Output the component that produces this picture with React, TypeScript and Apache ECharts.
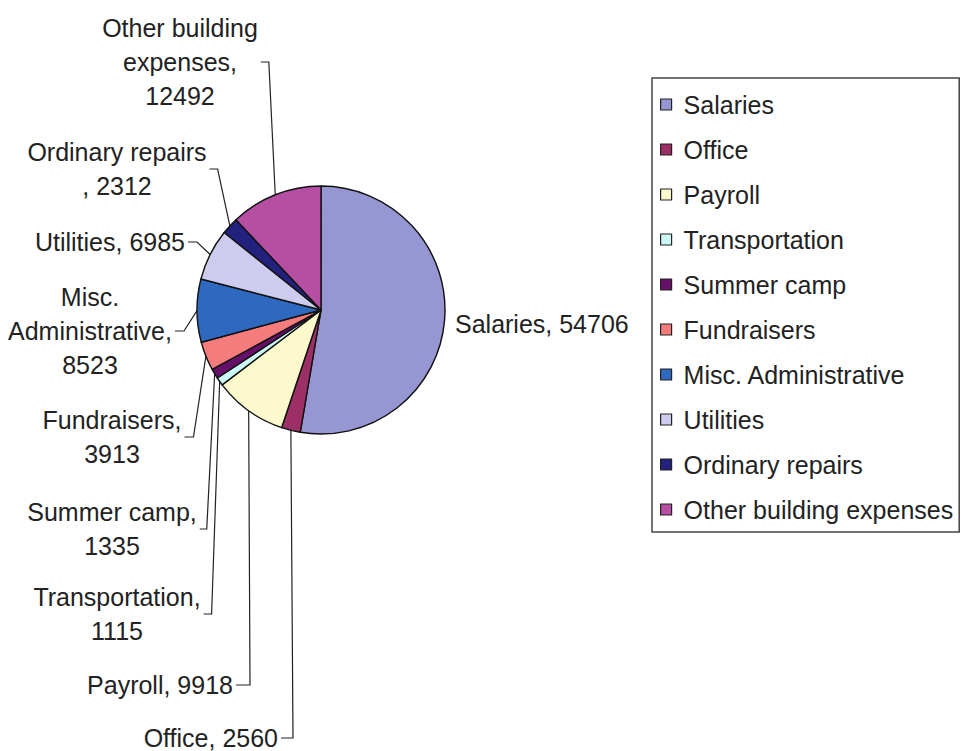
import React, { useEffect, useRef } from 'react';
import * as echarts from 'echarts';

// ---- data ----
const categories = [
  'Salaries',
  'Office',
  'Payroll',
  'Transportation',
  'Summer camp',
  'Fundraisers',
  'Misc. Administrative',
  'Utilities',
  'Ordinary repairs',
  'Other building expenses',
];
const values = [54706, 2560, 9918, 1115, 1335, 3913, 8523, 6985, 2312, 12492];
const colors = [
  '#9696D2',
  '#9B2F66',
  '#FCFACC',
  '#CCF7F7',
  '#66106A',
  '#F47C7C',
  '#2F69BF',
  '#CDCCEE',
  '#22227E',
  '#B64EA4',
];

// ---- label layout (positions only) ----
// wrap modes: 0 one line, 1 value on own line, 2 last word + value on own lines, 3 ", value" on own line
const labelWrap = [0, 0, 0, 1, 1, 1, 2, 0, 3, 2];
const labelX = [455, 278, 233, 117, 112, 112, 90, 185, 117, 180];
const labelY = [324, 738, 685, 614, 529, 437, 331, 242, 169, 62];
const labelAlign = ['left', 'right', 'right', 'center', 'center', 'center', 'center', 'right', 'center', 'center'];
const tickLen = [0, 12, 14, 8, 7, 9, 9, 9, 8, 8];

const FONT = '"Liberation Sans", Arial, sans-serif';

export default function App() {
  const ref = useRef<HTMLDivElement>(null);
  useEffect(() => {
    if (!ref.current) return;
    const chart = echarts.init(ref.current, undefined, { renderer: 'svg' });
    const data = categories.map((name, i) => ({
      name,
      value: values[i],
      itemStyle: { color: colors[i] },
      labelLine: { show: tickLen[i] > 0 },
    }));
    chart.setOption({
      animation: false,
      backgroundColor: '#ffffff',
      legend: {
        orient: 'vertical',
        left: 652,
        top: 78,
        padding: [14, 6, 10, 8],
        itemGap: 20,
        itemWidth: 11,
        itemHeight: 11,
        icon: 'rect',
        borderColor: '#444',
        borderWidth: 1.5,
        itemStyle: { borderColor: '#222', borderWidth: 1.2 },
        textStyle: {
          fontFamily: FONT,
          fontSize: 25,
          lineHeight: 25,
          color: '#222',
          padding: [0, 0, 0, 7],
        },
        data: categories,
      },
      series: [
        {
          type: 'pie',
          center: [321, 310],
          radius: 124,
          startAngle: 90,
          clockwise: true,
          avoidLabelOverlap: false,
          itemStyle: { borderColor: '#111', borderWidth: 1.4 },
          emphasis: { disabled: true },
          label: {
            show: true,
            position: 'outer',
            alignTo: 'none',
            fontFamily: FONT,
            fontSize: 25,
            lineHeight: 34,
            color: '#222',
            overflow: 'none',
            formatter: (p: any) => {
              const n = p.name as string;
              const v = p.value;
              const m = labelWrap[p.dataIndex];
              if (m === 1) return `${n},\n${v}`;
              if (m === 2) return n.replace(/ (\S+)$/, '\n$1') + `,\n${v}`;
              if (m === 3) return `${n}\n, ${v}`;
              return `${n}, ${v}`;
            },
          },
          labelLine: {
            show: true,
            length: 10,
            length2: 10,
            lineStyle: { color: '#222', width: 1.2 },
          },
          labelLayout: (params: any) => {
            const i = params.dataIndex;
            const x = labelX[i];
            const y = labelY[i];
            const align = labelAlign[i];
            const res: any = { x, y, align, verticalAlign: 'middle' };
            const pts = params.labelLinePoints;
            if (pts && tickLen[i] > 0) {
              const w = params.labelRect ? params.labelRect.width : 0;
              const edge = align === 'center' ? x + w / 2 : x;
              const start = edge + 3;
              const elbow = start + tickLen[i];
              res.labelLinePoints = [pts[0], [elbow, y], [start, y]];
            }
            return res;
          },
          data,
        },
      ],
    });
    return () => chart.dispose();
  }, []);
  return (
    <div
      ref={ref}
      style={{ position: 'fixed', left: 0, top: 0, width: 964, height: 751, background: '#fff' }}
    />
  );
}
